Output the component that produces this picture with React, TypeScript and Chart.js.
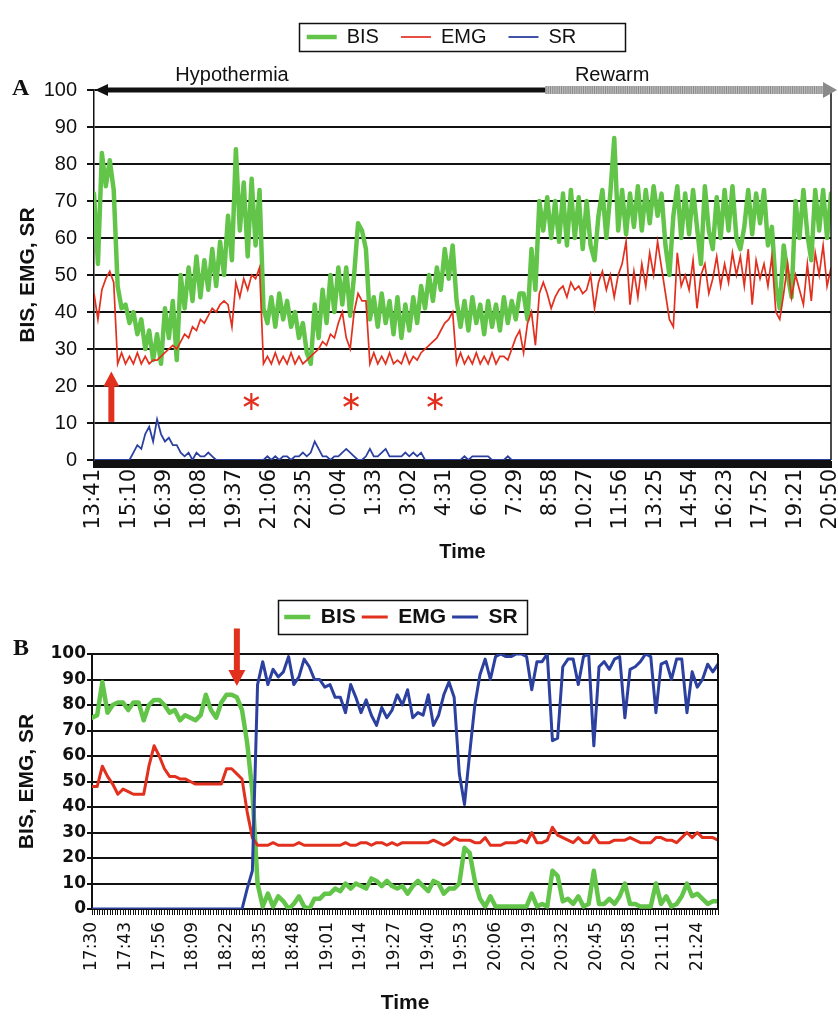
import React, { useEffect, useRef } from 'react';
import { Chart, registerables } from 'chart.js';

Chart.register(...registerables);

const GREEN = '#62C54A';
const RED = '#E2301F';
const BLUE = '#2C40A0';
const INK = '#111111';
const SANS = "'Liberation Sans', Arial, Helvetica, sans-serif";
const DEJAVU = "'DejaVu Sans', Verdana, sans-serif";
const SERIF = "'Liberation Serif', 'Times New Roman', serif";

// ---------------- Panel A (minutes after 13:41, one sample every ~10 min) ----------------
const TIME_LABELS_A = ['13:41', '15:10', '16:39', '18:08', '19:37', '21:06', '22:35', '0:04', '1:33', '3:02', '4:31',
  '6:00', '7:29', '8:58', '10:27', '11:56', '13:25', '14:54', '16:23', '17:52', '19:21', '20:50'];
const LABEL_STEP_A = 89;
const SPAN_A = 1869;

const BIS_A = [
  72, 53, 83, 74, 81, 73, 47, 41, 42, 37,
  40, 34, 38, 30, 35, 27, 34, 26, 41, 33,
  43, 27, 50, 41, 52, 43, 55, 44, 54, 46,
  57, 47, 59, 50, 66, 54, 84, 62, 75, 55,
  76, 58, 73, 41, 37, 44, 36, 45, 38, 43,
  36, 40, 33, 37, 29, 26, 42, 33, 46, 37,
  50, 40, 52,
  42, 52, 39, 50, 64, 62, 57, 38, 44, 36,
  45, 37, 43, 34, 44, 33, 42, 35, 44, 37,
  47, 41, 50, 43, 52, 46, 57, 49, 58, 43,
  36, 43, 35, 44, 37, 42, 34, 43, 36, 42,
  35, 44, 37, 43, 38, 45, 45, 38, 57, 46,
  70, 62, 71, 60, 70, 59, 72, 58, 73, 60,
  71, 57,
  70, 58, 54, 66, 73, 60, 72, 87, 62, 73,
  61, 72, 63, 74, 62, 73, 64, 74, 66, 72,
  58, 50, 66, 74, 60, 72, 61, 73, 63, 53,
  74, 62, 57, 71, 60, 73, 62, 74, 60, 57,
  63, 73, 61, 72, 64, 73, 58, 63, 47, 41,
  58, 50, 44, 70, 60, 73, 61, 54, 73, 62,
  73, 60, 72,
];
const EMG_A = [
  45, 38, 46, 49, 51, 48, 26,
  29, 26, 28, 26, 29, 26, 28, 26,
  27, 27, 28, 29, 30, 31, 30, 32, 34, 33,
  36, 35, 38, 37, 39, 41, 40, 42, 43, 42,
  36, 48, 44, 49, 46, 50, 49, 52,
  26,
  28, 26, 29, 26, 28, 26, 29, 26, 28, 26, 27,
  28, 29, 30, 32, 31, 34, 33, 37,
  40, 33, 30, 40, 45, 43, 43,
  26, 29, 26, 28, 26, 29, 26, 27, 26, 29, 26, 28, 27,
  29, 30, 31, 32, 33, 35, 37, 38, 40,
  26, 29, 26, 28, 26, 29, 26, 28, 26, 29, 26, 28,
  28, 27, 30, 33, 35, 29, 37, 40, 31, 45, 48, 45, 41, 44, 46, 47, 44, 48, 46, 47, 45,
  46, 50, 41, 48, 51, 46, 50, 44, 50, 53,
  59, 42, 51, 44, 53, 47, 56, 50, 59, 52,
  45, 38, 36, 56, 47, 50, 46, 54, 41, 50,
  53, 45, 49, 55, 47, 53, 48, 56, 50, 55,
  47, 57, 42, 54, 49, 53, 47, 55, 40, 38,
  45, 53, 44, 50, 46, 42, 53, 43, 56, 50,
  58, 47, 52,
];
const SR_A = [
  0, 0, 0, 0, 0, 0, 0, 0, 0, 0,
  2, 4, 3, 7, 9, 5, 11, 7, 5, 6, 4, 4, 2, 1, 2, 0, 2, 1, 1, 2, 1,
  0, 0, 0, 0, 0, 0, 0, 0, 0, 0, 0, 0, 0,
  1, 0, 1, 0, 1, 1, 0, 1, 1, 2, 1, 2, 5, 3, 1, 1, 0, 1, 1,
  2, 3, 2, 1, 0, 0, 1, 3, 1, 1, 2, 3, 1, 1, 1, 1, 2, 1, 2, 1, 2,
  0, 0, 0, 0, 0, 0, 0, 0, 0, 0,
  1, 0, 1, 1, 1, 1, 1, 0, 0, 0, 0, 1,
  0, 0, 0, 0, 0, 0, 0, 0, 0, 0, 0, 0, 0, 0, 0, 0, 0, 0, 0,
  0, 0, 0, 0, 0, 0, 0, 0, 0, 0, 0, 0, 0, 0, 0, 0, 0, 0, 0, 0, 0,
  0, 0, 0, 0, 0, 0, 0, 0, 0, 0, 0, 0, 0, 0, 0, 0, 0, 0, 0, 0, 0,
  0, 0, 0, 0, 0, 0, 0, 0, 0, 0, 0, 0, 0, 0, 0, 0, 0, 0, 0, 0, 0,
];

// annotations of panel A (in data units)
const REWARM_START_A = 1144;
const HYPO_TEXT_A = 350;
const REWARM_TEXT_A = 1314;
const ARROW_A = { t: 44, from: 10.3, to: 23.9 };
const ASTERISKS_A = [399, 652, 865];
const ASTERISK_LEVEL_A = 15.8;

// ---------------- Panel B (minutes after 17:30, one sample every 2 min) ----------------
const TIME_LABELS_B = ['17:30', '17:43', '17:56', '18:09', '18:22', '18:35', '18:48', '19:01', '19:14', '19:27',
  '19:40', '19:53', '20:06', '20:19', '20:32', '20:45', '20:58', '21:11', '21:24'];
const LABEL_STEP_B = 13;
const SPAN_B = 242;
const SAMPLE_STEP_B = 2;

const BIS_B = [
  75, 76, 89, 77, 80, 81, 81, 78, 81, 81,
  74, 80, 82, 82, 80, 77, 78, 74, 76, 75,
  74, 76, 84, 78, 75, 81, 84, 84, 83, 78,
  65, 46, 10, 1, 6, 1, 5, 3, 0, 2,
  5, 1, 0, 4, 4, 6, 6, 8, 7, 10,
  8, 10, 9, 8, 12, 11, 9, 11, 9, 8,
  9, 6,
  9, 11, 9, 7, 11, 10, 6, 8, 8, 10,
  24, 22, 11, 4, 1, 5, 1, 1, 1, 1,
  1, 1, 1, 6, 1, 2, 1, 15, 13, 3,
  4, 2, 5, 1, 2, 15, 2, 2, 4, 2,
  5, 10, 2, 2, 1, 1, 1, 10, 2, 5,
  1, 2, 5, 10, 5, 6, 4, 2, 3, 3,
];
const EMG_B = [
  48, 48, 56, 52, 49, 45, 47, 46, 45, 45,
  45, 56, 64, 60, 55, 52, 52, 51, 51, 50,
  49, 49, 49, 49, 49, 49, 55, 55, 53, 51,
  38, 28, 25, 25, 25, 26, 25, 25, 25, 25,
  26, 25, 25, 25, 25, 25, 25, 25, 25, 26,
  25, 25, 26, 26, 25, 26, 26, 25, 26, 25,
  26, 26,
  26, 26, 26, 26, 27, 26, 25, 26, 28, 27,
  27, 27, 26, 26, 28, 25, 25, 25, 26, 26,
  26, 27, 26, 30, 26, 26, 27, 32, 29, 28,
  27, 26, 28, 26, 26, 29, 26, 26, 26, 27,
  27, 27, 28, 27, 26, 26, 26, 28, 28, 27,
  27, 26, 28, 30, 28, 30, 28, 28, 28, 27,
];
const SR_B = [
  0, 0, 0, 0, 0, 0, 0, 0, 0, 0,
  0, 0, 0, 0, 0, 0, 0, 0, 0, 0,
  0, 0, 0, 0, 0, 0, 0, 0, 0, 0,
  8, 15, 88, 97, 88, 94, 91, 93, 99, 88,
  91, 98, 95, 90, 90, 87, 88, 83, 83, 77,
  88, 83, 77, 82, 76, 72, 79, 75, 78, 84,
  80, 86,
  75, 77, 76, 84, 72, 76, 84, 89, 83, 53,
  41, 61, 80, 92, 98, 90, 99, 100, 99, 99,
  100, 100, 99, 86, 97, 97, 100, 66, 67, 95,
  98, 98, 88, 99, 100, 64, 95, 97, 94, 98,
  99, 75, 94, 95, 97, 100, 99, 77, 96, 97,
  90, 98, 98, 77, 93, 87, 90, 96, 93, 96,
];

const ARROW_B = { t: 56, from: 110, to: 87.5 };

// ---------------- helpers ----------------
function toPoints(values: number[], step: number) {
  return values.map((v, i) => ({ x: i * step, y: v }));
}

const legendShift = {
  id: 'legendShift',
  afterLayout(chart: any, _args: any, opts: any) {
    const lg = chart.legend;
    if (!lg || !opts) return;
    lg.left += opts.dx || 0;
    lg.right += opts.dx || 0;
  },
};

function drawLegendBorder(chart: any, padL: number, padR: number, halfH: number) {
  const lg = chart.legend;
  if (!lg || !lg.legendHitBoxes || !lg.legendHitBoxes.length) return;
  const hb = lg.legendHitBoxes;
  const first = hb[0];
  const last = hb[hb.length - 1];
  const cy = first.top + first.height / 2;
  const ctx = chart.ctx;
  ctx.save();
  ctx.strokeStyle = INK;
  ctx.lineWidth = 1.5;
  const l = first.left - padL;
  const r = last.left + last.width + padR;
  ctx.strokeRect(Math.round(l) + 0.5, Math.round(cy - halfH) + 0.5, Math.round(r - l), Math.round(halfH * 2));
  ctx.restore();
}

function drawUpArrow(ctx: CanvasRenderingContext2D, x: number, yTail: number, yTip: number, color: string) {
  const headH = 15;
  ctx.fillStyle = color;
  ctx.fillRect(x - 3, yTip + headH - 1, 6, yTail - yTip - headH + 1);
  ctx.beginPath();
  ctx.moveTo(x, yTip);
  ctx.lineTo(x - 8, yTip + headH);
  ctx.lineTo(x + 8, yTip + headH);
  ctx.closePath();
  ctx.fill();
}

function drawDownArrow(ctx: CanvasRenderingContext2D, x: number, yTail: number, yTip: number, color: string) {
  const headH = 16;
  ctx.fillStyle = color;
  ctx.fillRect(x - 3, yTail, 6, yTip - yTail - headH + 1);
  ctx.beginPath();
  ctx.moveTo(x, yTip);
  ctx.lineTo(x - 8.5, yTip - headH);
  ctx.lineTo(x + 8.5, yTip - headH);
  ctx.closePath();
  ctx.fill();
}

function drawAsterisk(ctx: CanvasRenderingContext2D, cx: number, cy: number, r: number, color: string) {
  ctx.strokeStyle = color;
  ctx.lineWidth = 2.2;
  ctx.lineCap = 'butt';
  for (let k = 0; k < 3; k++) {
    const a = Math.PI / 2 + (k * Math.PI) / 3;
    ctx.beginPath();
    ctx.moveTo(cx - r * Math.cos(a), cy - r * Math.sin(a));
    ctx.lineTo(cx + r * Math.cos(a), cy + r * Math.sin(a));
    ctx.stroke();
  }
}

const decorA = {
  id: 'decorA',
  afterDraw(chart: any) {
    const { ctx, chartArea: ca, scales } = chart;
    const xs = scales.x;
    const ys = scales.y;
    const yTop = ys.getPixelForValue(100);
    ctx.save();
    ctx.fillStyle = INK;
    ctx.fillRect(ca.left - 1, ca.bottom + 1, ca.right - ca.left + 2, 7);
    ctx.strokeStyle = INK;
    ctx.lineWidth = 1.5;
    ctx.beginPath();
    ctx.moveTo(ca.right, yTop);
    ctx.lineTo(ca.right, ca.bottom);
    ctx.stroke();
    const xSplit = xs.getPixelForValue(REWARM_START_A);
    ctx.fillStyle = '#bdbdbd';
    ctx.fillRect(xSplit, yTop - 4, ca.right - 6 - xSplit, 8);
    ctx.strokeStyle = '#7d7d7d';
    ctx.lineWidth = 0.8;
    for (let xx = xSplit + 1; xx < ca.right - 6; xx += 2.2) {
      ctx.beginPath();
      ctx.moveTo(xx, yTop - 4);
      ctx.lineTo(xx, yTop + 4);
      ctx.stroke();
    }
    ctx.fillStyle = '#8a8a8a';
    ctx.beginPath();
    ctx.moveTo(ca.right + 6, yTop);
    ctx.lineTo(ca.right - 8, yTop - 8);
    ctx.lineTo(ca.right - 8, yTop + 8);
    ctx.closePath();
    ctx.fill();
    ctx.strokeStyle = INK;
    ctx.lineWidth = 5;
    ctx.beginPath();
    ctx.moveTo(ca.left + 10, yTop);
    ctx.lineTo(xSplit, yTop);
    ctx.stroke();
    ctx.fillStyle = INK;
    ctx.beginPath();
    ctx.moveTo(ca.left + 1, yTop);
    ctx.lineTo(ca.left + 14, yTop - 6);
    ctx.lineTo(ca.left + 14, yTop + 6);
    ctx.closePath();
    ctx.fill();
    ctx.font = `20px ${SANS}`;
    ctx.fillStyle = INK;
    ctx.textAlign = 'center';
    ctx.textBaseline = 'alphabetic';
    ctx.fillText('Hypothermia', xs.getPixelForValue(HYPO_TEXT_A), yTop - 9);
    ctx.fillText('Rewarm', xs.getPixelForValue(REWARM_TEXT_A), yTop - 9);
    drawUpArrow(ctx, xs.getPixelForValue(ARROW_A.t), ys.getPixelForValue(ARROW_A.from), ys.getPixelForValue(ARROW_A.to), RED);
    for (const t of ASTERISKS_A) {
      drawAsterisk(ctx, xs.getPixelForValue(t), ys.getPixelForValue(ASTERISK_LEVEL_A), 8.5, RED);
    }
    ctx.font = `bold 24px ${SERIF}`;
    ctx.textAlign = 'left';
    ctx.fillStyle = INK;
    ctx.fillText('A', 12, 95);
    ctx.restore();
    drawLegendBorder(chart, 8, 48, 14);
  },
};

const decorB = {
  id: 'decorB',
  afterDraw(chart: any) {
    const { ctx, chartArea: ca, scales } = chart;
    const xs = scales.x;
    const ys = scales.y;
    ctx.save();
    ctx.strokeStyle = INK;
    ctx.lineWidth = 2;
    ctx.beginPath();
    ctx.moveTo(ca.right, ca.top);
    ctx.lineTo(ca.right, ca.bottom);
    ctx.stroke();
    drawDownArrow(ctx, xs.getPixelForValue(ARROW_B.t), ys.getPixelForValue(ARROW_B.from), ys.getPixelForValue(ARROW_B.to), RED);
    ctx.font = `bold 24px ${SERIF}`;
    ctx.textAlign = 'left';
    ctx.textBaseline = 'alphabetic';
    ctx.fillStyle = INK;
    ctx.fillText('B', 13, 75);
    ctx.restore();
    drawLegendBorder(chart, 6, 9, 17);
  },
};

const ROUND = { borderJoinStyle: 'round', borderCapStyle: 'round' };

function makeConfigA(): any {
  const step = SPAN_A / (BIS_A.length - 1);
  return {
    type: 'line',
    data: {
      datasets: [
        { label: 'BIS', data: toPoints(BIS_A, step), borderColor: GREEN, backgroundColor: GREEN, borderWidth: 4.5, pointRadius: 0, order: 3, ...ROUND },
        { label: 'EMG', data: toPoints(EMG_A, step), borderColor: RED, backgroundColor: RED, borderWidth: 1.7, pointRadius: 0, order: 2 },
        { label: 'SR', data: toPoints(SR_A, step), borderColor: BLUE, backgroundColor: BLUE, borderWidth: 1.8, pointRadius: 0, order: 1 },
      ],
    },
    options: {
      animation: false,
      responsive: false,
      maintainAspectRatio: false,
      events: [],
      layout: { padding: { top: 5, left: 0, right: 7, bottom: 0 } },
      plugins: {
        legend: {
          display: true,
          position: 'top',
          fullSize: false,
          align: 'center',
          labels: {
            usePointStyle: true,
            pointStyle: 'line',
            pointStyleWidth: 30,
            padding: 22,
            color: INK,
            font: { family: SANS, size: 20 },
            sort: (a: any, b: any) => a.datasetIndex - b.datasetIndex,
          },
        },
        title: { display: true, text: '', weight: 500, position: 'top', padding: { top: 23, bottom: 0 }, font: { size: 10, lineHeight: 1 } },
        tooltip: { enabled: false },
        legendShift: { dx: -21 },
      },
      scales: {
        x: {
          type: 'linear',
          min: 0,
          max: SPAN_A,
          afterBuildTicks: (s: any) => {
            s.ticks = TIME_LABELS_A.map((_, k) => ({ value: k * LABEL_STEP_A }));
          },
          afterFit: (s: any) => {
            s.height = 120;
            s.paddingLeft = 0;
            s.paddingRight = 0;
          },
          ticks: {
            autoSkip: false,
            minRotation: 90,
            maxRotation: 90,
            padding: 9,
            color: INK,
            font: { family: DEJAVU, size: 21 },
            callback: (_v: any, idx: number) => TIME_LABELS_A[idx],
          },
          grid: { display: false, drawTicks: false },
          border: { display: false },
          title: { display: true, text: 'Time', color: INK, font: { family: SANS, size: 20, weight: 'bold', lineHeight: 1.2 }, padding: { top: 0, bottom: 16 } },
        },
        y: {
          min: 0,
          max: 100,
          afterFit: (s: any) => {
            s.width = 94;
            s.paddingTop = 0;
            s.paddingBottom = 0;
          },
          ticks: { stepSize: 10, padding: 10, color: INK, font: { family: SANS, size: 20 } },
          grid: { color: INK, lineWidth: 2, drawTicks: true, tickLength: 7 },
          border: { display: true, color: INK, width: 1.5 },
          title: { display: true, text: 'BIS, EMG, SR', color: INK, font: { family: SANS, size: 21, weight: 'bold', lineHeight: 1.2 }, padding: { top: 16, bottom: 0 } },
        },
      },
    },
    plugins: [legendShift, decorA],
  };
}

function makeConfigB(): any {
  return {
    type: 'line',
    data: {
      datasets: [
        { label: 'BIS', data: toPoints(BIS_B, SAMPLE_STEP_B), borderColor: GREEN, backgroundColor: GREEN, borderWidth: 4.5, pointRadius: 0, order: 3, ...ROUND },
        { label: 'EMG', data: toPoints(EMG_B, SAMPLE_STEP_B), borderColor: RED, backgroundColor: RED, borderWidth: 3, pointRadius: 0, order: 2, ...ROUND },
        { label: 'SR', data: toPoints(SR_B, SAMPLE_STEP_B), borderColor: BLUE, backgroundColor: BLUE, borderWidth: 3, pointRadius: 0, order: 1, ...ROUND },
      ],
    },
    options: {
      animation: false,
      responsive: false,
      maintainAspectRatio: false,
      events: [],
      layout: { padding: { top: 20.5, left: 0, right: 120, bottom: 0 } },
      plugins: {
        legend: {
          display: true,
          position: 'top',
          fullSize: false,
          align: 'center',
          labels: {
            usePointStyle: true,
            pointStyle: 'line',
            pointStyleWidth: 26,
            padding: 6,
            color: INK,
            font: { family: SANS, size: 21, weight: 'bold' },
            sort: (a: any, b: any) => a.datasetIndex - b.datasetIndex,
          },
        },
        title: { display: true, text: '', weight: 500, position: 'top', padding: { top: 6.5, bottom: 0 }, font: { size: 10, lineHeight: 1 } },
        tooltip: { enabled: false },
        legendShift: { dx: -4 },
      },
      scales: {
        x: {
          type: 'linear',
          min: 0,
          max: SPAN_B,
          afterBuildTicks: (s: any) => {
            const t: any[] = [];
            for (let m = 0; m <= SPAN_B; m++) t.push({ value: m });
            s.ticks = t;
          },
          afterFit: (s: any) => {
            s.height = 107;
            s.paddingLeft = 0;
            s.paddingRight = 0;
          },
          ticks: {
            autoSkip: false,
            minRotation: 90,
            maxRotation: 90,
            padding: 7,
            color: INK,
            font: { family: DEJAVU, size: 17 },
            callback: (v: any) => (v % LABEL_STEP_B === 0 ? TIME_LABELS_B[v / LABEL_STEP_B] || '' : ''),
          },
          grid: { display: true, drawOnChartArea: false, drawTicks: true, tickLength: 6, color: INK, lineWidth: 1 },
          border: { display: true, color: INK, width: 2 },
          title: { display: true, text: 'Time', color: INK, font: { family: SANS, size: 21, weight: 'bold', lineHeight: 1.2 }, padding: { top: 0, bottom: 0 } },
        },
        y: {
          min: 0,
          max: 100,
          afterFit: (s: any) => {
            s.width = 92;
            s.paddingTop = 0;
            s.paddingBottom = 0;
          },
          ticks: { stepSize: 10, padding: 1, color: INK, font: { family: DEJAVU, size: 17, weight: 'bold' } },
          grid: { color: INK, lineWidth: 2, drawTicks: true, tickLength: 5 },
          border: { display: true, color: INK, width: 2 },
          title: { display: true, text: 'BIS, EMG, SR', color: INK, font: { family: SANS, size: 21, weight: 'bold', lineHeight: 1.2 }, padding: { top: 15, bottom: 0 } },
        },
      },
    },
    plugins: [legendShift, decorB],
  };
}

export default function App() {
  const refA = useRef<HTMLCanvasElement>(null);
  const refB = useRef<HTMLCanvasElement>(null);
  useEffect(() => {
    const a = new Chart(refA.current as HTMLCanvasElement, makeConfigA());
    const b = new Chart(refB.current as HTMLCanvasElement, makeConfigB());
    return () => {
      a.destroy();
      b.destroy();
    };
  }, []);
  return (
    <div style={{ position: 'absolute', left: 0, top: 0, width: 838, height: 1016, background: '#ffffff' }}>
      <canvas ref={refA} width={838} height={580} style={{ position: 'absolute', left: 0, top: 0, width: 838, height: 580 }} />
      <canvas ref={refB} width={838} height={436} style={{ position: 'absolute', left: 0, top: 580, width: 838, height: 436 }} />
    </div>
  );
}
